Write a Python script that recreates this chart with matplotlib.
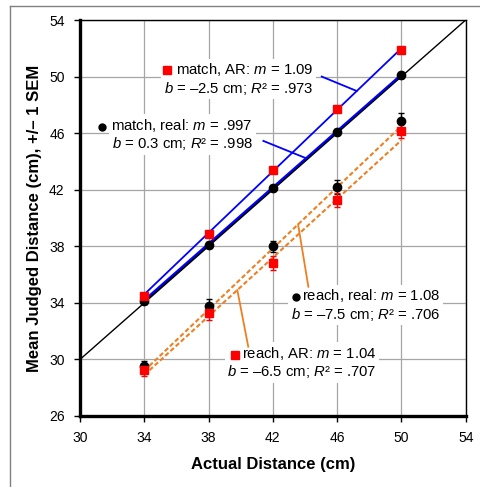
import matplotlib
matplotlib.use("Agg")
import matplotlib.pyplot as plt
from matplotlib.lines import Line2D

plt.rcParams['font.family'] = ['Liberation Sans', 'DejaVu Sans']
plt.rcParams['mathtext.fontset'] = 'custom'
plt.rcParams['mathtext.rm'] = 'Liberation Sans'
plt.rcParams['mathtext.it'] = 'Liberation Sans:italic'

# data
distances = [34, 38, 42, 46, 50]
match_real = [34.1, 38.1, 42.1, 46.1, 50.1]
match_real_sem = [0.2, 0.2, 0.2, 0.2, 0.2]
match_ar = [34.5, 38.9, 43.4, 47.7, 51.9]
match_ar_sem = [0.2, 0.2, 0.2, 0.2, 0.2]
reach_real = [29.5, 33.8, 38.0, 42.2, 46.85]
reach_real_sem = [0.4, 0.45, 0.4, 0.5, 0.55]
reach_ar = [29.25, 33.3, 36.8, 41.3, 46.15]
reach_ar_sem = [0.45, 0.5, 0.5, 0.5, 0.5]

# regression line end points (x = 34 and x = 50)
fit_x = [34, 50]
match_ar_fit = [34.6, 52.0]
match_real_fit = [34.2, 50.15]
reach_real_fit = [29.2, 46.5]
reach_ar_fit = [28.9, 45.5]

identity = [30, 54]
ticks = [30, 34, 38, 42, 46, 50, 54]
yticks = [26, 30, 34, 38, 42, 46, 50, 54]

blue = '#0000ff'
orange = '#ee7f22'
red = '#ff0000'

fig = plt.figure(figsize=(4.8, 4.87), dpi=100)
ax = fig.add_axes([80 / 480, 1 - 416 / 487, 385.7 / 480, 396 / 487])

ax.set_xlim(30, 54)
ax.set_ylim(26, 54)
ax.set_xticks(ticks)
ax.set_yticks(yticks)
ax.tick_params(labelsize=10, length=4, width=1, direction='out', pad=7)
ax.grid(True, color='#a6a6a6', lw=0.9)
ax.set_axisbelow(True)
for s in ['left', 'bottom']:
    ax.spines[s].set_linewidth(2.4)
for s in ['top', 'right']:
    ax.spines[s].set_linewidth(1.0)

# identity line and fits
ax.plot(identity, identity, color='black', lw=1.0, zorder=4)
ax.plot(distances, match_real, color='black', lw=1.4, zorder=4)
ax.plot(fit_x, match_real_fit, color=blue, lw=1.5, zorder=5)
ax.plot(fit_x, match_ar_fit, color=blue, lw=1.3, zorder=5)
ax.plot(fit_x, reach_real_fit, color=orange, lw=1.5, ls=(0, (2.2, 1.2)), zorder=5)
ax.plot(fit_x, reach_ar_fit, color=orange, lw=1.5, ls=(0, (2.2, 1.2)), zorder=5)

# points with error bars
ax.errorbar(distances, reach_real, yerr=reach_real_sem, fmt='o', color='black',
            ms=6, capsize=2.5, elinewidth=1, capthick=1, zorder=6)
ax.errorbar(distances, reach_ar, yerr=reach_ar_sem, fmt='s', color=red,
            ms=5.5, capsize=2.5, elinewidth=1, capthick=1, zorder=6)
ax.errorbar(distances, match_real, yerr=match_real_sem, fmt='o', color='black',
            ms=6, capsize=2.5, elinewidth=1, capthick=1, zorder=6)
ax.errorbar(distances, match_ar, yerr=match_ar_sem, fmt='s', color=red,
            ms=5.5, capsize=2.5, elinewidth=1, capthick=1, zorder=6)

# leader lines
ax.plot([45.04, 47.22], [50.0, 48.98], color=blue, lw=1.3, zorder=4)
ax.plot([41.41, 44.06], [45.45, 44.23], color=blue, lw=1.3, zorder=4)
ax.plot([44.21, 43.57], [35.14, 39.55], color=orange, lw=1.3, zorder=4)
ax.plot([39.79, 40.47], [34.9, 30.9], color=orange, lw=1.3, zorder=4)

# labels: (text, right edge x, centre y, marker, colour, marker x, marker y)
box = dict(facecolor='white', edgecolor='none', pad=2)
labels = [
    ("match, AR: $m$ = 1.09\n$b$ = \u20132.5 cm; $R$\u00b2 = .973", 44.5, 49.83, 's', red, 35.41, 50.47),
    ("match, real: $m$ = .997\n$b$ = 0.3 cm; $R$\u00b2 = .998", 40.75, 45.9, 'o', 'black', 31.35, 46.46),
    ("reach, real: $m$ = 1.08\n$b$ = \u20137.5 cm; $R$\u00b2 = .706", 52.44, 33.85, 'o', 'black', 43.42, 34.44),
    ("reach, AR: $m$ = 1.04\n$b$ = \u20136.5 cm; $R$\u00b2 = .707", 48.46, 29.78, 's', red, 39.65, 30.31),
]
for txt, tx, ty, mk, mc, mx, my in labels:
    ax.text(tx, ty, txt, fontsize=10.7, ha='right', va='center', ma='right',
            linespacing=1.1, bbox=box, zorder=3)
    ax.plot([mx], [my], marker=mk, color=mc, ms=5.5 if mk == 's' else 5,
            ls='none', zorder=4)

fig.text(273 / 480, 1 - 465 / 487, "Actual Distance (cm)", fontsize=12,
         fontweight='bold', ha='center', va='center')
fig.text(35 / 480, 1 - 218 / 487, "Mean Judged Distance (cm), +/\u2013 1 SEM",
         fontsize=12, fontweight='bold', ha='center', va='center', rotation=90)

# outer frame
fig.add_artist(Line2D([9.5 / 480, 9.5 / 480], [0, 1 - 6 / 487], color='#808080', lw=1))
fig.add_artist(Line2D([9.5 / 480, 1], [1 - 6 / 487, 1 - 6 / 487], color='#808080', lw=1))

fig.savefig('out.png', dpi=100)
